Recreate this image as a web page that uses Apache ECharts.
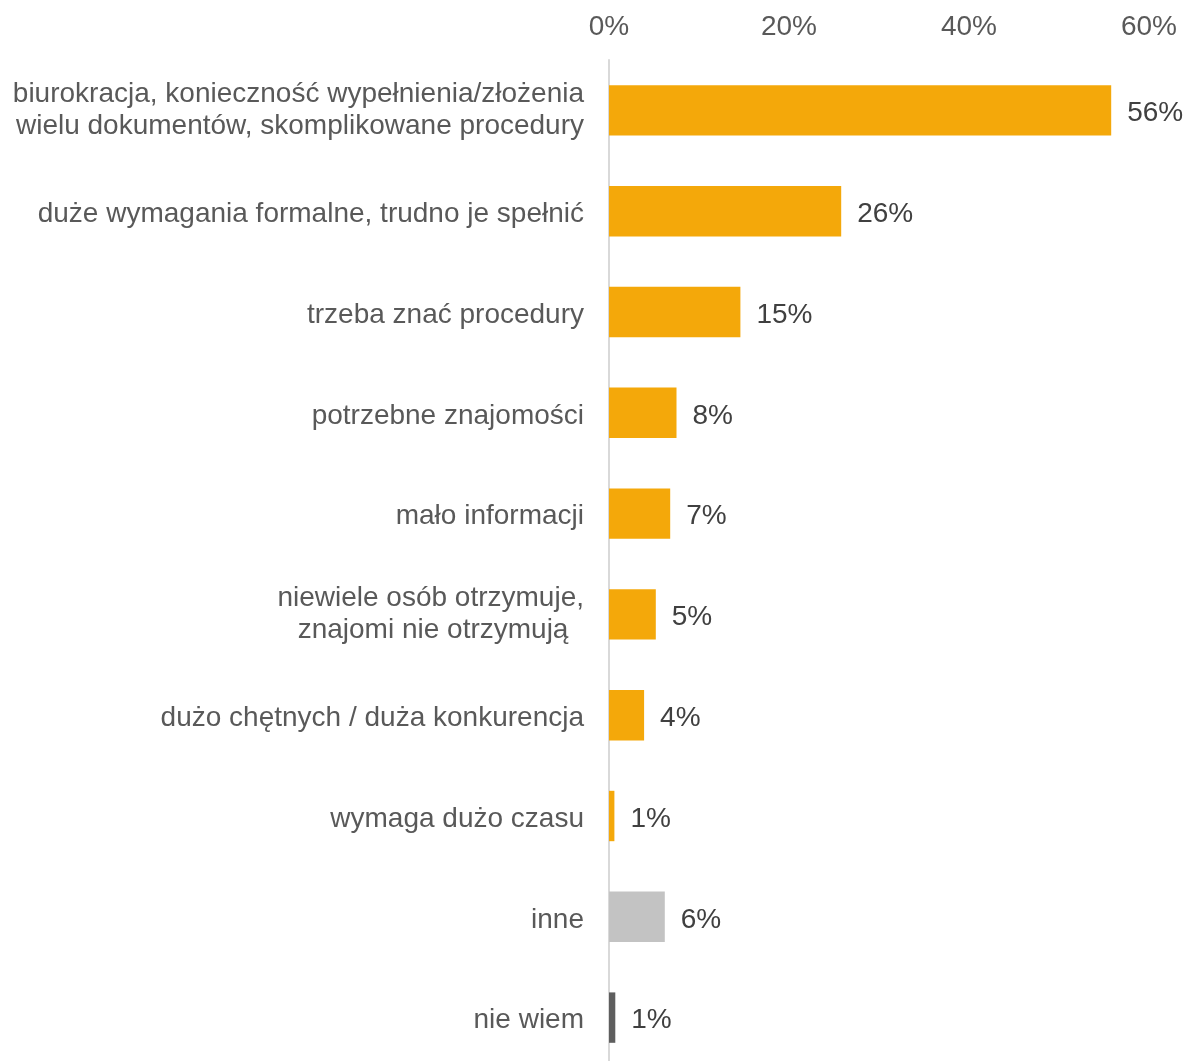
<!DOCTYPE html>
<html>
<head>
<meta charset="utf-8">
<script src="https://cdn.jsdelivr.net/npm/echarts@6/dist/echarts.min.js"></script>
<style>
html,body{margin:0;padding:0;background:#fff;overflow:hidden;width:1186px;height:1061px;}
#chart{width:1186px;height:1069px;}
</style>
</head>
<body>
<div id="chart"></div>
<script>
var categories = [
  "biurokracja, konieczność wypełnienia/złożenia\nwielu dokumentów, skomplikowane procedury",
  "duże wymagania formalne, trudno je spełnić",
  "trzeba znać procedury",
  "potrzebne znajomości",
  "mało informacji",
  "niewiele osób otrzymuje,\nznajomi nie otrzymują  ",
  "dużo chętnych / duża konkurencja",
  "wymaga dużo czasu",
  "inne",
  "nie wiem"
];
var values = [55.8, 25.8, 14.6, 7.5, 6.8, 5.2, 3.9, 0.6, 6.2, 0.7];
var valueLabels = ["56%", "26%", "15%", "8%", "7%", "5%", "4%", "1%", "6%", "1%"];
var barColors = ["#F4A80A","#F4A80A","#F4A80A","#F4A80A","#F4A80A","#F4A80A","#F4A80A","#F4A80A","#C3C3C3","#5E5E5E"];
var xTicks = [0, 20, 40, 60];

var FONT = "Liberation Sans, Arial, sans-serif";
var chart = echarts.init(document.getElementById('chart'));
chart.setOption({
  animation: false,
  backgroundColor: '#ffffff',
  grid: { left: 609, right: 37, top: 60, bottom: 1, containLabel: false },
  xAxis: {
    type: 'value',
    position: 'top',
    min: xTicks[0],
    max: xTicks[xTicks.length - 1],
    interval: xTicks[1] - xTicks[0],
    axisLine: { show: false },
    axisTick: { show: false },
    splitLine: { show: false },
    axisLabel: {
      formatter: '{value}%',
      fontSize: 28,
      fontFamily: FONT,
      color: '#595959',
      margin: 19
    }
  },
  yAxis: {
    type: 'category',
    inverse: true,
    data: categories,
    axisTick: { show: false },
    axisLine: { show: true, lineStyle: { color: '#D9D9D9', width: 2 } },
    axisLabel: {
      fontSize: 28,
      fontFamily: FONT,
      color: '#595959',
      margin: 25,
      align: 'right',
      formatter: function (v) {
        var lines = v.split('\n');
        var tag = lines.length > 1 ? 'b' : 'a';
        return lines.map(function (l) { return '{' + tag + '|' + l + '}'; }).join('\n');
      },
      rich: {
        a: {
          fontSize: 28,
          fontFamily: FONT,
          color: '#595959',
          lineHeight: 26,
          padding: [6, 0, 0, 0]
        },
        b: {
          fontSize: 28,
          fontFamily: FONT,
          color: '#595959',
          lineHeight: 32
        }
      }
    }
  },
  series: [{
    type: 'bar',
    barWidth: '50%',
    data: values.map(function (v, i) {
      return { value: v, itemStyle: { color: barColors[i] } };
    }),
    label: {
      show: true,
      position: 'right',
      distance: 16,
      offset: [0, 3],
      fontSize: 28,
      fontFamily: FONT,
      color: '#404040',
      formatter: function (p) { return valueLabels[p.dataIndex]; }
    }
  }]
});
</script>
</body>
</html>
